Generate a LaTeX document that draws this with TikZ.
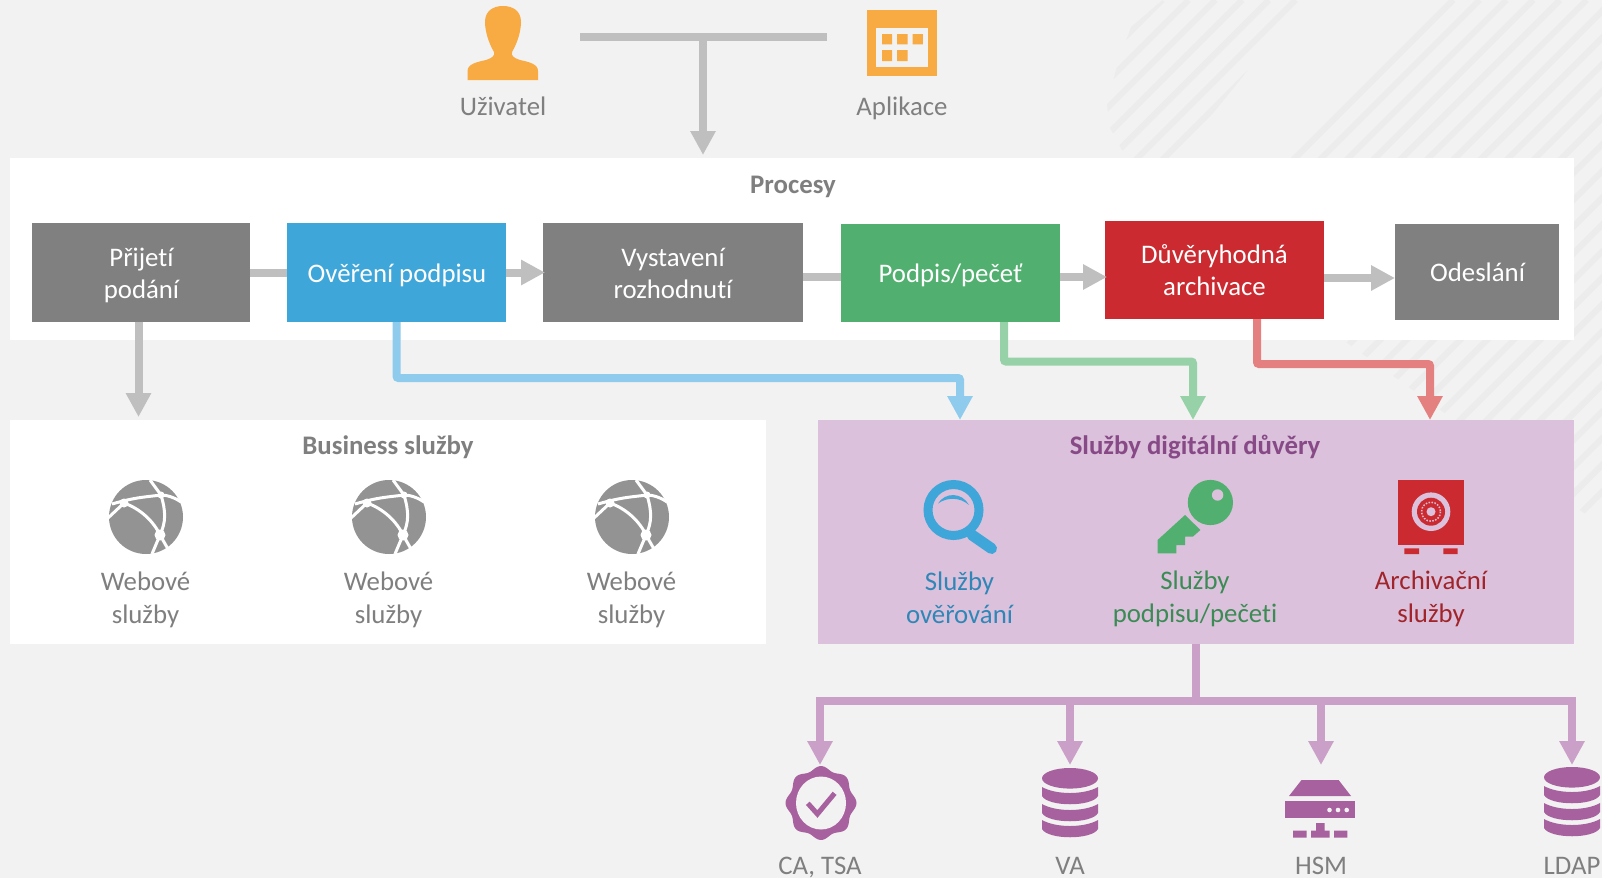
\documentclass[tikz,border=0pt]{standalone}
\usepackage{fontspec}
\setmainfont[Ligatures=NoCommon]{Carlito}
\usetikzlibrary{arrows.meta}
\definecolor{pozadi}{HTML}{F2F2F2}
\definecolor{pruh}{HTML}{ECECEC}
\definecolor{sedabox}{HTML}{808080}
\definecolor{sedatext}{HTML}{7F7F7F}
\definecolor{sedacara}{HTML}{BFBFBF}
\definecolor{modra}{HTML}{3FA6DA}
\definecolor{modracara}{HTML}{8ECBEC}
\definecolor{modratext}{HTML}{2F86B7}
\definecolor{zelena}{HTML}{51B06F}
\definecolor{zelenacara}{HTML}{96D1A8}
\definecolor{zelenatext}{HTML}{3B8B54}
\definecolor{cervena}{HTML}{CB2B30}
\definecolor{cervenacara}{HTML}{E58080}
\definecolor{cervenatext}{HTML}{A0242A}
\definecolor{oranzova}{HTML}{F7AB42}
\definecolor{fialova}{HTML}{A8619F}
\definecolor{fialovacara}{HTML}{CBA0C8}
\definecolor{fialovatext}{HTML}{874A87}
\definecolor{panelfialovy}{HTML}{DBC1DB}

\begin{document}
\begin{tikzpicture}[x=1pt,y=-1pt,font=\fontsize{26.8}{32.7}\selectfont]
		\tikzset{panel/.style={anchor=north west,inner sep=0pt,outer sep=0pt}}
		\tikzset{krok/.style={inner sep=0pt,outer sep=0pt,minimum height=99pt}}
		\tikzset{kroktext/.style={align=center,text=white,inner sep=0pt}}
		\tikzset{nadpis/.style={font=\fontsize{26.8}{32.7}\selectfont\bfseries,text=sedatext}}
		\tikzset{popis/.style={align=center,text=sedatext}}
		\tikzset{dolni/.style={popis,anchor=base,inner sep=0pt}}
		\tikzset{cara/.style={line width=8pt,>={Triangle[length=24pt,width=24pt]},rounded corners=2pt}}
		\tikzset{koule/.pic={
				\fill[gray!85] (0,0) circle (37);
				\draw[white,line width=3pt] (-34,-13) .. controls (-10,-20) and (0,-20) .. (15,-22) .. controls (20,-22) and (28,-20) .. (35,-15);
				\draw[white,line width=3pt] (4,-37) -- (15,-22) .. controls (20,-5) and (20,5) .. (14,18) -- (6,37);
				\draw[white,line width=3pt] (-38,1) -- (-22,-14) .. controls (-5,-8) and (8,5) .. (14,18) -- (22,32);
				\fill[white] (-22,-14) circle (4.5) (15,-22) circle (3.5) (14,18) circle (5.5);
			}
		}
		\tikzset{databaze/.pic={
				\fill[fialova] (0,10.3) ellipse (28 and 10.3);
				\foreach \s in {19,36,52} {
					\fill[fialova] (-28,\s) .. controls (-14,\s+8) and (14,\s+8) .. (28,\s) -- (28,\s+9) .. controls (22,\s+20) and (-22,\s+20) .. (-28,\s+9) -- cycle;
				}
			}
		}
		\useasboundingbox (0,0) rectangle (1602,878);

		% pozadi
		\fill[pozadi] (0,0) rectangle (1602,878);
		\begin{scope}
			\clip (1165,-2) -- (1131,27) -- (1117,66) -- (1107,105) -- (1110,128) -- (1122,150) -- (1130,160) -- (1175,160) -- (1240,80) -- (1304,-2) -- cycle;
			\foreach \k in {1162,1188.7,...,1325} {
				\draw[pruh,line width=6pt] (\k,0) -- (\k-200,200);
			}
		\end{scope}
		\begin{scope}
			\clip (1200,237) -- (1343,340) -- (1602,526) -- (1602,0) -- (1440,0) -- cycle;
			\foreach \k in {1453,1479.7,...,2120} {
				\draw[pruh,line width=6pt] (\k,0) -- (\k-700,700);
			}
		\end{scope}

		% panely
		\node[panel,fill=white,minimum width=1564pt,minimum height=182pt] (procesy) at (10,158) {};
		\node[panel,fill=white,minimum width=756pt,minimum height=224pt] (business) at (10,420) {};
		\node[panel,fill=panelfialovy,minimum width=756pt,minimum height=224pt] (duvera) at (818,420) {};
		\node[nadpis] (titulprocesy) at (793,187) {Procesy};
		\node[nadpis] (titulbusiness) at (388,447.5) {Business služby};
		\node[nadpis,text=fialovatext] (titulduvera) at (1195,447) {Služby digitální důvěry};

		% kroky
		\node[krok,fill=sedabox,minimum width=218pt] (prijeti) at (141,272.5) {};
		\node[krok,fill=modra,minimum width=219pt] (overeni) at (396.5,272.5) {};
		\node[krok,fill=sedabox,minimum width=260pt] (vystaveni) at (673,272.5) {};
		\node[krok,fill=zelena,minimum width=219pt,minimum height=98pt] (podpis) at (950.5,273) {};
		\node[krok,fill=cervena,minimum width=219pt,minimum height=98pt] (archivace) at (1214.5,270) {};
		\node[krok,fill=sedabox,minimum width=164pt,minimum height=96pt] (odeslani) at (1477,272) {};
		\node[kroktext] (tprijeti) at (141.5,275.5) {Přijetí\\podání};
		\node[kroktext] (toverni) at (397,275.5) {Ověření podpisu};
		\node[kroktext] (tvystaveni) at (673,273.5) {Vystavení\\rozhodnutí};
		\node[kroktext] (tpodpis) at (950.5,275) {Podpis/pečeť};
		\node[kroktext] (tarchivace) at (1214.5,270) {Důvěryhodná\\archivace};
		\node[kroktext] (todeslani) at (1477.5,272) {Odeslání};

		% spojky mezi kroky
		\draw[cara,sedacara] (prijeti) -- (overeni);
		\draw[cara,sedacara,->,shorten >=-2pt] (overeni) -- (vystaveni);
		\draw[cara,sedacara] ([yshift=-4.5pt]vystaveni.east) -- ([yshift=-4pt]podpis.west);
		\draw[cara,sedacara,->,shorten >=-2pt] ([yshift=-4pt]podpis.east) -- ([yshift=-7pt]archivace.west);
		\draw[cara,sedacara,->] ([yshift=-8pt]archivace.east) -- ([yshift=-6pt]odeslani.west);

		% uzivatel
		\fill[oranzova] (467.5,80) -- (467.5,71) .. controls (467.5,64) and (477,62) .. (486,60) .. controls (492,58) and (495,56) .. (494,52) .. controls (488,42) and (485,30) .. (485,22) .. controls (485,11) and (493,6) .. (503,6) .. controls (513,6) and (521,11) .. (521,22) .. controls (521,30) and (518,42) .. (512,52) .. controls (511,56) and (514,58) .. (520,60) .. controls (529,62) and (538,64) .. (538,71) -- (538,80) -- cycle;
		\node[popis,anchor=base] (uzivatel) at (503,115.5) {Uživatel};

		% aplikace
		\fill[oranzova] (867,10) rectangle (937,76);
		\fill[pozadi] (875.6,27.7) rectangle (928.4,66.7);
		\fill[oranzova] (882,34) rectangle (892,44.3) (897,34) rectangle (907.6,44.3) (912.5,34) rectangle (922.8,44.3) (882,50) rectangle (892,61) (897,50) rectangle (907.6,61);
		\node[popis,anchor=base] (aplikace) at (902,115.5) {Aplikace};

		\coordinate (vlevo) at (580,36.5);
		\coordinate (vpravo) at (827,36.5);
		\coordinate (stred) at (703,36.5);
		\coordinate (vstup) at (703,155);
		\draw[cara,sedacara,rounded corners=0pt] (vlevo) -- (vpravo);
		\draw[cara,sedacara,->] (stred) -- (vstup);

		% sipky do sluzeb
		\coordinate (vstupbusiness) at (138.5,417);
		\coordinate (vstupovereni) at (960,420);
		\coordinate (vstuppodpis) at (1193,420);
		\coordinate (vstuparchiv) at (1430,420);
		\draw[cara,sedacara,->] (prijeti.south -| vstupbusiness) -- (vstupbusiness);
		\draw[cara,modracara,->] (overeni.south) -- ++(0,56) -| (vstupovereni);
		\draw[cara,zelenacara,->] ([xshift=53.5pt]podpis.south) -- ++(0,39.5) -| (vstuppodpis);
		\draw[cara,cervenacara,->] ([xshift=42.5pt]archivace.south) -- ++(0,45) -| (vstuparchiv);

		% business sluzby
		\foreach \n/\x in {a/146,b/389,c/632} {
			\pic at (\x,517) {koule};
			\node[popis] (web\n) at (\x-0.5,599.5) {Webové\\služby};
		}

		% lupa
		\draw[modra,line width=9pt] (953.5,510) circle (25.5);
		\draw[modra,line width=11pt,line cap=round] (972,535) -- (991.5,548.5);
		\fill[modra] (938,503.5) .. controls (945,492) and (962,492) .. (969,505) .. controls (960,497) and (947,497) .. cycle;
		\node[popis,text=modratext] (overovani) at (959.5,597.5) {Služby\\ověřování};

		% klic
		\fill[zelena] (1185,515) -- (1200.4,530) -- (1192.8,536.7) -- (1185,536.7) -- (1185,545) -- (1176.3,545) -- (1176.3,553.3) -- (1157.6,553.3) -- (1157.6,540) -- cycle;
		\fill[zelena] (1210.4,502.5) circle (22.6);
		\fill[panelfialovy] (1217.6,495) circle (5.7);
		\node[popis,text=zelenatext] (podpisove) at (1195,598.5) {Služby\\podpisu/pečeti};

		% trezor
		\fill[cervena] (1398.3,480) rectangle (1463.7,545);
		\fill[cervena] (1404.4,548.3) rectangle (1419,554) (1443.4,548.3) rectangle (1457.6,554);
		\fill[panelfialovy] (1431,511.7) circle (19.3);
		\fill[cervena] (1431,511.7) circle (14);
		\draw[panelfialovy,line width=1.5pt,dash pattern=on 1.5pt off 1.5pt] (1431,511.7) circle (9.5);
		\fill[panelfialovy] (1431,511.7) circle (4.5);
		\node[popis,text=cervenatext] (archivacni) at (1431,598.5) {Archivační\\služby};

		% vystupy
		\coordinate (rozcesti) at (duvera.south |- 0,701);
		\coordinate (cilca) at (820,765);
		\coordinate (cilva) at (1070,765);
		\coordinate (cilhsm) at (1321,765);
		\coordinate (cilldap) at (1572,765);
		\draw[cara,fialovacara] (duvera.south) -- (rozcesti);
		\foreach \c in {cilca,cilva,cilhsm,cilldap} {
			\draw[cara,fialovacara,->,rounded corners=0pt] (rozcesti) -| (\c);
		}

		% ca
		\fill[fialova] plot[smooth cycle,domain=0:356,samples=90,variable=\t] ({821+(33.5+2*cos(8*\t))*cos(\t)},{803+(35+2*cos(8*\t))*sin(\t)});
		\fill[pozadi] (821,803) ellipse (25 and 26.5);
		\draw[fialova,line width=5pt] (807.8,803.3) -- (817.4,814) -- (834.6,793.3);
		\node[dolni] (ca) at (820,874) {CA, TSA};

		\pic at (1070,768) {databaze};
		\node[dolni] (va) at (1070,874) {VA};

		% hsm
		\fill[fialova] (1301.5,780) -- (1338.6,780) -- (1351,796) -- (1289,796) -- cycle;
		\fill[fialova] (1285,801) rectangle (1355,818.3);
		\fill[pozadi] (1329.5,810) circle (2.3) (1338,810) circle (2.3) (1346.7,810) circle (2.3);
		\fill[fialova] (1316,823) rectangle (1324.5,831) (1293,830.7) rectangle (1306.5,837.7) (1311,830.7) rectangle (1329.5,837.7) (1334,830.7) rectangle (1347.4,837.7);
		\node[dolni] (hsm) at (1321,874) {HSM};

		\pic at (1572,767) {databaze};
		\node[dolni] (ldap) at (1572,874) {LDAP};
\end{tikzpicture}
\end{document}
